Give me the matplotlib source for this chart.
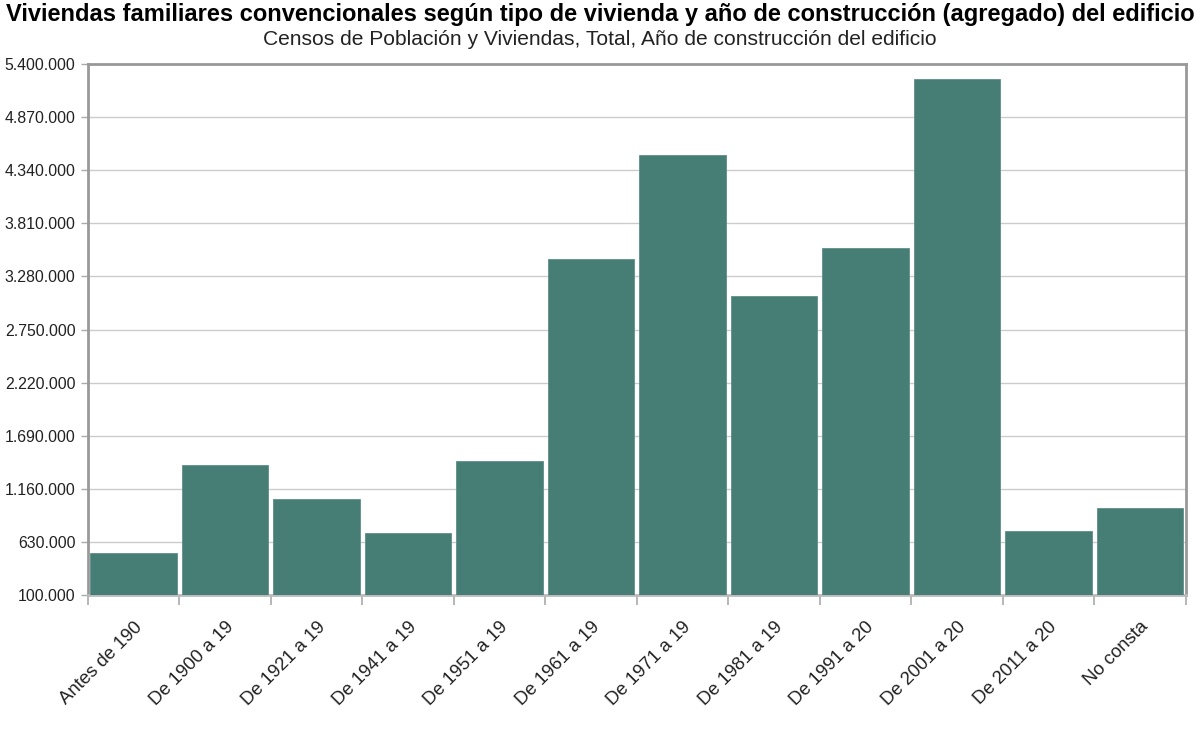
import matplotlib
matplotlib.use("Agg")
import matplotlib.pyplot as plt
from matplotlib.ticker import FixedLocator, FuncFormatter

categories = ["Antes de 190", "De 1900 a 19", "De 1921 a 19", "De 1941 a 19",
              "De 1951 a 19", "De 1961 a 19", "De 1971 a 19", "De 1981 a 19",
              "De 1991 a 20", "De 2001 a 20", "De 2011 a 20", "No consta"]
values = [513000, 1400000, 1060000, 720000, 1437000, 3453000, 4490000,
          3080000, 3563000, 5253000, 740000, 967000]
yticks = [100000, 630000, 1160000, 1690000, 2220000, 2750000, 3280000,
          3810000, 4340000, 4870000, 5400000]

title = "Viviendas familiares convencionales según tipo de vivienda y año de construcción (agregado) del edificio"
subtitle = "Censos de Población y Viviendas, Total, Año de construcción del edificio"

plt.rcParams['font.family'] = ['Liberation Sans', 'DejaVu Sans']

fig = plt.figure(figsize=(12, 7.38), dpi=100)
ax = fig.add_axes([0.0733, 0.194, 0.9147, 0.719])

x = list(range(len(categories)))
ax.bar(x, values, width=0.945, color='#467d75', edgecolor='#5e8f88', linewidth=0.6, zorder=3)

ax.set_xlim(-0.5, len(categories) - 0.5)
ax.set_ylim(yticks[0], yticks[-1])
ax.yaxis.set_major_locator(FixedLocator(yticks))
ax.yaxis.set_major_formatter(FuncFormatter(lambda v, p: f"{int(round(v)):,}".replace(",", ".")))
ax.grid(axis='y', color='#cccccc', linewidth=1, zorder=0)

ax.set_xticks(x)
ax.set_xticklabels(categories, rotation=45, ha='right', rotation_mode='anchor', fontsize=13.3,
                   color='#222222')
ax.tick_params(axis='x', which='major', length=0, pad=17)
ax.set_xticks([i - 0.5 for i in range(len(categories) + 1)], minor=True)
ax.tick_params(axis='x', which='minor', length=7, color='#aaaaaa', width=1.2)
ax.tick_params(axis='y', length=5, color='#aaaaaa', width=1, labelsize=11.4, pad=4,
               labelcolor='#222222')

for s in ax.spines.values():
    s.set_color('#999999')
    s.set_linewidth(2)
ax.spines['bottom'].set_color('#bbbbbb')

fig.text(0.5, 0.981, title, ha='center', va='center', fontsize=17.0, fontweight='bold')
fig.text(0.5, 0.946, subtitle, ha='center', va='center', fontsize=15.1, color='#222222')

fig.savefig("out.png", dpi=100)
